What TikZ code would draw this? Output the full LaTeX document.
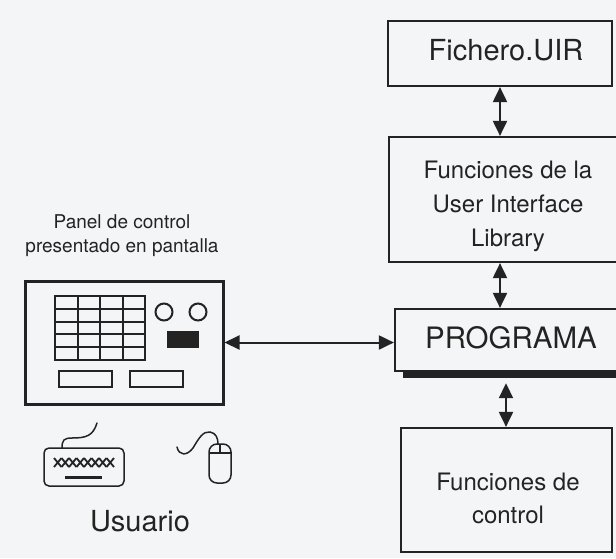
\documentclass[tikz,border=0pt]{standalone}
\usepackage{fontspec}
\setmainfont{TeX Gyre Heros}
\usetikzlibrary{arrows.meta,calc}
\definecolor{paper}{RGB}{244,245,246}
\definecolor{ink}{RGB}{35,35,35}
\begin{document}
\begin{tikzpicture}[x=1pt,y=-1pt,
  frame/.style={draw=ink, line width=2.2pt, inner sep=0pt},
  biarrow/.style={draw=ink, line width=2pt,
    {Triangle[length=15pt,width=14pt]}-{Triangle[length=15pt,width=14pt]}},
  thin ink/.style={draw=ink, line width=1.5pt},
  caption/.style={text=ink, align=center, inner sep=0pt}]
\useasboundingbox (0,0) rectangle (616,558);
\fill[paper] (0,0) rectangle (616,558);

% ---- right column: files, libraries, program, control functions
\node[frame, minimum width=224pt, minimum height=65pt] (fich) at (500,53.5) {};
\node[caption, font=\fontsize{29}{30}\selectfont] at (506,50) {Fichero.UIR};

\node[frame, minimum width=236pt, minimum height=125pt] (uil) at (507,199.5) {};
\node[caption, font=\fontsize{24}{34}\selectfont] at (508,206) {Funciones de la\\User Interface\\Library};

\node[frame, minimum width=230pt, minimum height=62pt] (prog) at (510,340) {};
\node[fill=ink, inner sep=0pt, minimum width=217pt, minimum height=7pt] (shadow) at (511.5,374.5) {};
\node[caption, font=\fontsize{29.5}{30}\selectfont] at (511,338) {PROGRAMA};

\node[frame, minimum width=211pt, minimum height=124pt] (ctrl) at (506.5,490) {};
\node[caption, font=\fontsize{24}{33}\selectfont] at (508,498) {Funciones de\\control};

% arrow columns
\coordinate (ax) at (500,0);
\coordinate (bx) at (506,0);
\draw[biarrow] (fich.south -| ax) -- (uil.north -| ax);
\draw[biarrow] (uil.south -| ax) -- (prog.north -| ax);
\draw[biarrow, shorten <=5pt] (shadow.south -| bx) -- (ctrl.north -| bx);

% ---- on-screen control panel
\node[caption, font=\fontsize{19}{24.5}\selectfont] at (122,235.5) {Panel de control\\presentado en pantalla};
\node[draw=ink, line width=3pt, inner sep=0pt, minimum width=198pt, minimum height=123pt] (panel) at (124,342.5) {};
% table
\draw[ink, line width=2pt] (55,296) rectangle (145,360);
\foreach \cx in {77.5,100,122.5} \draw[ink, line width=2pt] (\cx,296) -- (\cx,360);
\foreach \ry in {308.8,321.6,334.4,347.2} \draw[ink, line width=2pt] (55,\ry) -- (145,\ry);
% knobs and display
\draw[ink, line width=2pt] (164,312) circle (8.5pt) (198,312) circle (8.5pt);
\fill[ink] (167,331) rectangle (199,348);
% buttons
\draw[ink, line width=1.5pt] (59,371) rectangle (112,387) (130,371) rectangle (183,387);

\draw[biarrow] (panel.east) -- (panel.east -| prog.west);

% ---- user devices
% keyboard
\draw[thin ink, rounded corners=5pt] (44,448) rectangle (124,486);
\foreach \i in {0,...,7} {
  \draw[ink, line width=1.8pt] ({54+7.5*\i},458) -- ({61.5+7.5*\i},467)
                              ({54+7.5*\i},467) -- ({61.5+7.5*\i},458);
}
\draw[ink, line width=3pt] (65,477.5) -- (102,477.5);
\draw[thin ink, line cap=round] (62,448) .. controls (62,440) and (64,438) .. (72,438)
  .. controls (86,438) and (93,436) .. (97,423);
% mouse
\draw[thin ink, rounded corners=8pt] (209,444) rectangle (231,483);
\draw[thin ink] (209.5,453) -- (230.5,453) (220,444) -- (220,453);
\draw[thin ink, line cap=round] (177,447) .. controls (179,456) and (187,456) .. (193,448)
  .. controls (199,438) and (203,431) .. (210,432)
  .. controls (216,433) and (218,438) .. (218,444);

\node[caption, font=\fontsize{29}{30}\selectfont] (user) at (140,521) {Usuario};
\end{tikzpicture}
\end{document}
